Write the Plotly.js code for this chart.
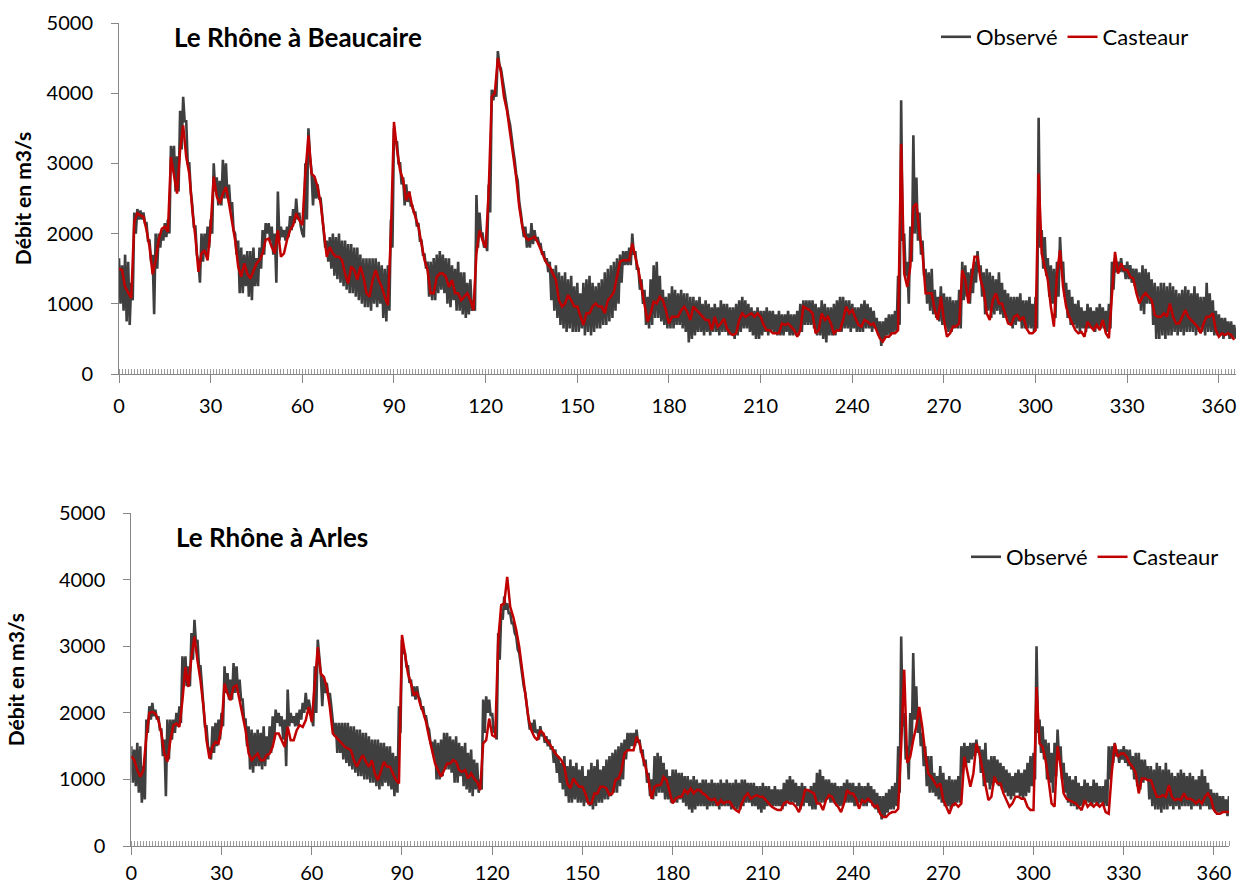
<!DOCTYPE html>
<html>
<head>
<meta charset="utf-8">
<script src="https://cdn.plot.ly/plotly-3.0.1.min.js"></script>
<style>html,body{margin:0;padding:0;background:#fff;}#chart{width:1239px;height:886px;}</style>
</head>
<body>
<div id="chart"></div>
<script>
// ---- Data, one value per day 0..365 ----
var seriesNames = ["Observé", "Casteaur"];
var stationTitles = ["Le Rhône à Beaucaire", "Le Rhône à Arles"];
var xTickVals = [0, 30, 60, 90, 120, 150, 180, 210, 240, 270, 300, 330, 360];
var yTickVals = [0, 1000, 2000, 3000, 4000, 5000];

// Beaucaire - Casteaur (model)
var castBeaucaire = [
1500,1480,1240,1150,1080,2170,2290,2260,2240,2050,
1810,1420,1620,1910,2070,2100,2025,3090,2855,2570,
3190,3540,3090,2855,2330,1955,1456,1717,1765,1620,
2100,2810,2525,2430,2570,2665,2430,2145,1910,1530,
1385,1575,1430,1360,1480,1575,1620,1717,1910,1930,
1810,1717,2050,1670,1717,1910,2050,2120,2290,2190,
2120,2855,3400,2855,2810,2665,2430,2000,1670,1810,
1717,1670,1670,1620,1430,1290,1530,1480,1340,1530,
1385,1150,1100,1340,1480,1340,1240,1100,980,2000,
3590,3190,2900,2760,2475,2595,2380,2240,2100,1860,
1620,1480,1150,1150,1385,1430,1430,1385,1240,1340,
1150,1150,1050,1100,1150,1050,910,1720,2050,1900,
1800,2600,3950,4000,4500,4300,3950,3750,3450,3150,
2800,2380,2100,1955,1910,1930,1955,1880,1765,1670,
1575,1530,1430,1340,1050,960,1005,1125,1050,960,
960,815,700,865,865,960,1005,960,960,865,
1050,1100,1170,1385,1600,1620,1620,1620,1860,1670,
1480,1240,960,745,865,1030,1005,1100,1050,910,
720,815,815,815,910,960,885,770,960,910,
865,815,770,770,625,815,675,720,790,650,
580,555,580,770,865,815,840,865,815,865,
815,700,625,625,580,580,580,720,700,720,
675,625,530,625,960,935,910,865,580,625,
865,770,815,720,580,625,625,770,960,865,
910,800,700,675,770,745,700,720,625,510,
460,530,530,580,580,625,3280,1430,1240,1530,
2380,2430,2000,1717,1150,1150,1150,910,770,1100,
770,530,580,675,675,720,1480,1340,1005,1340,
1670,1670,1340,1195,865,770,1050,1150,1005,1005,
865,720,700,815,840,770,815,650,580,580,
625,2855,1717,1530,1340,960,675,1430,1765,1240,
960,815,720,625,580,600,530,745,675,625,
700,625,770,580,510,1195,1740,1430,1575,1480,
1480,1385,1360,1150,1005,1100,1150,1100,1050,840,
815,815,865,815,1005,815,720,720,815,910,
815,770,720,675,580,720,815,815,865,625,
530,580,555,580,555,485];

// Beaucaire - observed, daily upper and lower edge of the tidal band
var obsHighBeaucaire = [
1650,1550,1700,1600,1300,2300,2350,2330,2300,2150,
1900,1700,2000,2000,2050,2150,2200,3250,3250,3100,
3750,3950,3600,3000,2400,2100,1600,2000,2000,2100,
2200,3000,2800,2750,3050,3000,2700,2450,2000,1900,
1800,1700,1750,1750,1800,1650,1800,2050,2150,2150,
2100,2000,2600,2100,2050,2100,2250,2350,2500,2300,
2000,3000,3500,2900,2800,2700,2500,2000,1900,1950,
2000,1950,2000,1900,1900,1850,1850,1800,1800,1700,
1650,1650,1650,1650,1650,1600,1550,1500,1550,2200,
3500,3300,3000,2800,2700,2600,2400,2300,2150,1900,
1700,1600,1600,1650,1700,1750,1700,1650,1650,1550,
1500,1600,1450,1450,1300,1350,1050,2550,2300,2000,
1900,2700,4050,4050,4600,4350,4050,3800,3550,3200,
2850,2450,2150,2100,2000,2150,2050,1950,1850,1750,
1650,1600,1500,1550,1450,1400,1450,1350,1400,1250,
1300,1150,1300,1350,1400,1300,1250,1300,1350,1450,
1500,1550,1600,1650,1700,1750,1750,1800,2000,1750,
1500,1350,1200,1100,1350,1550,1600,1400,1200,1100,
1150,1250,1200,1150,1200,1150,1150,1100,1100,1050,
1100,1000,1050,1000,950,1000,950,1050,1000,1000,
950,950,1000,1050,1100,1050,1000,950,900,950,
900,900,950,900,900,850,900,850,850,900,
850,850,900,1000,1050,1050,1050,1050,1000,950,
1050,1000,950,950,1000,1050,1100,1100,1050,1050,
1000,950,950,1000,1050,1000,950,900,800,750,
750,800,850,850,900,1400,3900,2000,1600,2100,
3400,2800,2300,1900,1500,1450,1500,1200,1100,1250,
1150,1100,1100,1050,1050,1200,1600,1550,1450,1500,
1600,1750,1550,1450,1500,1450,1400,1350,1450,1300,
1200,1150,1100,1100,1100,1150,1050,1050,1100,1000,
1100,3650,2050,1950,1650,1550,1500,1600,1950,1600,
1300,1200,1100,1000,1050,950,900,1000,950,900,
950,1000,950,900,1000,1600,1650,1600,1650,1550,
1600,1550,1500,1500,1450,1550,1500,1450,1350,1300,
1250,1300,1300,1250,1300,1250,1200,1150,1200,1250,
1200,1150,1250,1150,1100,1100,1300,1150,1050,900,
850,800,800,750,750,700];

var obsLowBeaucaire = [
1000,900,750,700,1050,2000,2200,2200,2150,1900,
1600,850,1500,1800,1900,1950,2000,2900,2600,2600,
3200,3600,3000,2600,2100,1700,1300,1600,1700,1800,
2000,2600,2400,2400,2500,2500,2350,2050,1700,1150,
1150,1250,1100,1050,1250,1250,1500,1700,2000,1900,
1700,1300,1900,1950,1900,1950,2050,2150,2200,2100,
1950,2200,3100,2400,2500,2500,2300,1800,1600,1500,
1400,1350,1300,1250,1200,1150,1150,1100,1050,1000,
950,950,900,1000,950,1000,800,750,900,1800,
3300,3000,2700,2400,2450,2400,2300,2100,1900,1700,
1500,1100,1050,1050,1150,1200,1150,1000,950,1050,
900,900,850,800,850,900,900,1800,2000,1800,
1750,2300,3900,3950,4400,4200,3900,3650,3350,3050,
2750,2300,1950,1800,1800,1850,1900,1850,1700,1600,
1450,1050,900,800,700,650,600,650,600,600,
600,650,550,600,550,600,650,650,700,700,
750,800,900,1000,1300,1550,1550,1550,1700,1500,
1200,1000,700,650,700,800,800,750,700,650,
650,650,700,700,650,600,450,500,550,600,
600,550,600,550,600,600,550,600,600,550,
550,500,550,600,650,650,600,550,500,500,
550,600,550,600,600,550,550,550,600,550,
550,550,550,600,700,700,700,650,550,550,
500,450,550,550,550,600,600,650,650,600,
650,600,600,600,650,650,600,650,550,400,
500,550,550,600,600,700,1900,1400,1000,1600,
2000,1900,1700,1400,1000,900,850,800,750,700,
650,600,600,650,650,650,1050,1100,1000,1150,
1300,1450,1100,850,900,800,850,900,850,800,
800,700,650,700,750,650,650,650,650,600,
650,1800,1500,1400,1100,1000,800,1100,1500,1100,
800,700,700,650,600,650,600,650,650,600,
650,650,650,600,650,1200,1450,1450,1450,1350,
1350,1300,1250,1100,900,850,1000,1000,700,500,
500,550,500,550,550,600,550,600,550,600,
600,600,550,600,600,550,600,600,550,550,
550,500,550,500,500,500];

// Arles - Casteaur (model)
var castArles = [
1350,1290,1140,1040,1140,1640,2000,2015,1990,1890,
1690,1390,1265,1590,1815,1840,1790,2190,2690,2390,
2840,3145,2790,2490,2090,1590,1315,1490,1565,1540,
1790,2440,2290,2190,2390,2415,2190,1940,1740,1390,
1290,1340,1390,1290,1290,1365,1390,1490,1690,1690,
1590,1490,1790,1590,1590,1740,1815,1790,1890,2090,
1865,2440,2990,2590,2540,2390,2090,1690,1640,1590,
1540,1490,1465,1440,1290,1190,1290,1365,1265,1190,
1290,1090,990,1140,1265,1190,1190,1090,990,940,
3170,2890,2590,2440,2265,2315,2140,2015,1865,1640,
1440,1240,1140,1040,1140,1240,1240,1290,1265,1140,
1115,1140,1015,1090,1015,965,840,1540,1590,1915,
1665,1640,3090,3620,3645,4045,3595,3445,3245,2990,
2640,2290,1940,1740,1640,1590,1740,1690,1590,1540,
1465,1390,1340,1290,1190,940,865,1015,940,890,
890,790,640,640,790,790,890,890,865,765,
790,990,1015,1140,1390,1440,1440,1440,1640,1540,
1340,1190,990,710,890,915,915,1040,990,790,
640,710,740,740,840,790,865,790,840,840,
790,765,710,690,710,610,690,640,665,665,
590,540,510,640,740,790,710,740,765,740,
740,690,640,590,560,540,540,640,665,640,
640,590,510,640,840,840,815,790,640,640,
540,690,765,740,640,590,510,640,840,790,
790,710,560,690,660,710,665,590,610,485,
435,435,485,510,510,560,1500,2650,1250,1340,
1590,1790,2090,1790,1390,1090,1040,965,890,940,
690,590,485,610,640,590,640,1340,1090,890,
1090,1540,1390,1140,890,690,740,1040,940,940,
790,690,590,640,740,740,710,710,590,540,
540,2390,1540,1490,1290,990,640,590,1500,1190,
790,710,690,665,640,590,540,690,590,640,
590,640,590,640,510,485,1090,1540,1340,1390,
1390,1340,1240,1190,1090,790,1015,1015,990,990,
865,740,740,765,740,915,740,690,710,690,
790,710,710,690,640,690,640,740,790,710,
540,485,485,510,510,510];

// Arles - observed, daily upper and lower edge of the tidal band
var obsHighArles = [
1500,1450,1550,1500,1200,1900,2100,2150,2050,1950,
1750,1600,1900,1900,1900,2000,2100,2850,2850,2700,
3200,3400,3100,2700,2200,1800,1450,1800,1850,1900,
2000,2700,2600,2500,2750,2700,2500,2200,1900,1800,
1750,1700,1750,1700,1800,1650,1800,1950,2050,2000,
1950,1900,2350,2000,1950,2000,2050,2150,2300,2200,
1900,2700,3100,2600,2550,2450,2300,1850,1850,1850,
1850,1850,1850,1800,1800,1750,1750,1700,1700,1650,
1600,1600,1600,1550,1550,1500,1500,1400,1350,2100,
3100,2900,2700,2500,2400,2400,2200,2100,1950,1750,
1550,1600,1550,1600,1700,1700,1650,1600,1650,1550,
1500,1550,1400,1450,1300,1250,1000,2200,2250,2200,
2000,1800,3200,3500,3750,3650,3500,3350,3150,2900,
2600,2300,1950,1850,1900,1750,1800,1700,1650,1600,
1500,1450,1350,1250,1350,1200,1300,1200,1250,1150,
1200,1050,1150,1250,1200,1300,1150,1200,1300,1350,
1400,1450,1500,1550,1600,1700,1700,1700,1750,1600,
1450,1300,1100,1000,1350,1400,1350,1250,1150,1050,
1150,1150,1100,1100,1050,1050,1000,1050,1000,950,
1000,1000,950,1000,950,950,1000,950,1000,950,
950,1000,950,1000,1000,950,950,950,900,900,
950,900,900,850,900,850,850,950,1000,1050,
1000,950,900,950,900,850,900,950,1100,1150,
1050,1000,1000,950,950,900,900,950,1000,950,
950,900,950,900,900,950,900,850,800,750,
750,800,850,900,950,1500,3150,2000,1500,2000,
2900,2400,2000,1700,1500,1350,1350,1100,1050,1200,
1100,1000,1050,1000,1000,1050,1500,1550,1500,1550,
1550,1600,1500,1450,1550,1300,1350,1350,1300,1250,
1200,1150,1100,1050,1100,1150,1100,1150,1250,1350,
1400,3000,1900,1800,1600,1550,1400,1550,1750,1500,
1250,1100,1050,1000,1050,950,900,1000,950,900,
1000,950,900,900,1000,1500,1500,1550,1450,1450,
1500,1450,1450,1350,1400,1400,1300,1300,1200,1200,
1150,1250,1200,1150,1250,1150,1100,1050,1100,1150,
1100,1050,1100,1050,1000,1050,1150,1050,950,850,
800,800,750,750,700,750];

var obsLowArles = [
950,900,800,650,700,1700,1900,1950,1900,1750,
1350,750,1300,1600,1700,1800,1850,2400,2400,2400,
2800,3050,2700,2400,1800,1500,1300,1400,1500,1600,
1800,2300,2200,2200,2300,2300,2200,1900,1500,1150,
1100,1200,1200,1150,1200,1300,1400,1600,1850,1800,
1600,1200,1800,1850,1800,1800,1900,2000,2050,2050,
1800,2000,2800,2100,2300,2250,2100,1650,1400,1400,
1300,1250,1200,1150,1100,1050,1050,1000,1000,950,
950,900,850,900,950,900,850,750,800,1700,
2900,2700,2450,2250,2200,2250,2050,1950,1800,1550,
1350,1000,1000,1050,1150,1150,1100,950,950,1050,
900,850,800,750,850,800,850,1700,2000,1950,
1700,1600,2800,3400,3550,3500,3350,3200,2950,2700,
2400,2100,1750,1700,1700,1600,1650,1550,1500,1450,
1250,1100,950,850,750,650,650,700,650,650,
600,650,600,550,600,650,650,700,700,750,
800,800,900,1000,1300,1450,1500,1500,1550,1400,
1200,950,750,700,750,800,800,700,700,650,
650,650,700,650,600,550,500,550,600,600,
600,550,600,600,600,550,600,600,600,550,
550,550,550,600,650,650,600,600,550,500,
550,600,600,600,600,600,550,600,650,650,
650,600,550,600,650,600,550,550,650,650,
650,700,650,650,600,600,600,650,650,650,
600,600,650,600,600,650,600,550,500,400,
450,500,550,550,600,800,1800,1300,1000,1500,
1900,1700,1500,1200,900,800,800,750,700,650,
600,600,550,600,650,650,1100,1200,1250,1300,
1350,1400,1100,900,950,850,900,950,900,850,
800,750,700,750,800,750,700,750,800,900,
1000,1700,1400,1300,1000,950,800,1050,1300,1000,
800,650,600,600,550,600,600,650,650,600,
650,600,650,600,600,1000,1250,1350,1250,1300,
1250,1200,1150,1000,900,850,950,1000,700,600,
550,550,500,550,550,600,550,600,550,600,
600,600,550,600,600,550,600,600,550,550,
500,500,500,500,450,500];

// ---- checks ----
[["castBeaucaire",castBeaucaire],["obsHighBeaucaire",obsHighBeaucaire],["obsLowBeaucaire",obsLowBeaucaire],
 ["castArles",castArles],["obsHighArles",obsHighArles],["obsLowArles",obsLowArles]].forEach(function(p){
  if (p[1].length !== 366) throw new Error(p[0] + " has " + p[1].length + " values");
});

// daily index for the model series
function dayIndex(arr){ return arr.map(function(_, i){ return i; }); }
// observed band: each day's upper value, then its lower value half a day later
function bandTrace(hi, lo){
  var x = [], y = [];
  for (var i = 0; i < hi.length; i++){ x.push(i, i + 0.5); y.push(hi[i], lo[i]); }
  return {x: x, y: y};
}

var FONT = "Lato, 'Open Sans', 'DejaVu Sans', sans-serif";
var GREY = "#3f3f3f", RED = "#C00000", AXIS = "#868686";

var bB = bandTrace(obsHighBeaucaire, obsLowBeaucaire);
var bA = bandTrace(obsHighArles, obsLowArles);

var traces = [
  {x: bB.x, y: bB.y, type: "scatter", mode: "lines", name: seriesNames[0], xaxis: "x", yaxis: "y",
   line: {color: GREY, width: 2.6}, legend: "legend", hoverinfo: "skip"},
  {x: dayIndex(castBeaucaire), y: castBeaucaire, type: "scatter", mode: "lines", name: seriesNames[1], xaxis: "x", yaxis: "y",
   line: {color: RED, width: 2.5}, legend: "legend"},
  {x: bA.x, y: bA.y, type: "scatter", mode: "lines", name: seriesNames[0], xaxis: "x2", yaxis: "y2",
   line: {color: GREY, width: 2.6}, legend: "legend2", hoverinfo: "skip"},
  {x: dayIndex(castArles), y: castArles, type: "scatter", mode: "lines", name: seriesNames[1], xaxis: "x2", yaxis: "y2",
   line: {color: RED, width: 2.5}, legend: "legend2"}
];

function xAxis(domain, range, anchor, standoff){
  return {domain: domain, range: range, anchor: anchor, tickmode: "array", tickvals: xTickVals,
    ticks: "outside", ticklen: 8, tickwidth: 1, tickcolor: AXIS,
    showline: true, linecolor: AXIS, linewidth: 1, showgrid: false, zeroline: false,
    tickfont: {family: FONT, size: 20, color: "#000"}, ticklabelstandoff: standoff,
    minor: {tick0: 0, dtick: 1, ticks: "inside", ticklen: 5, tickwidth: 1, tickcolor: "#9a9a9a", showgrid: false}};
}
function yAxis(domain, anchor, standoff){
  return {domain: domain, range: [0, 5000], anchor: anchor, tickmode: "array", tickvals: yTickVals,
    ticks: "outside", ticklen: 7, tickwidth: 1, tickcolor: AXIS,
    showline: true, linecolor: AXIS, linewidth: 1, showgrid: false, zeroline: false,
    tickfont: {family: FONT, size: 20, color: "#000"}, ticklabelstandoff: 14,
    title: {text: "Débit en m3/s", font: {family: FONT, size: 21, color: "#000", weight: "bold"}, standoff: standoff}};
}

var layout = {
  width: 1239, height: 886,
  margin: {l: 0, r: 0, t: 0, b: 0},
  paper_bgcolor: "#fff", plot_bgcolor: "#fff",
  font: {family: FONT, color: "#000"},
  showlegend: true,
  xaxis: xAxis([119/1239, 1236/1239], [0, 365.6], "y", 6),
  yaxis: yAxis([1 - 374/886, 1 - 23/886], "x", 9),
  xaxis2: xAxis([131.3/1239, 1229/1239], [0, 365], "y2", 1),
  yaxis2: yAxis([1 - 846/886, 1 - 513.3/886], "x2", 28),
  legend: {orientation: "h", x: 1194/1239, xanchor: "right", y: 1 - 37/886, yanchor: "middle",
    bgcolor: "rgba(0,0,0,0)", font: {family: FONT, size: 22, color: "#000"}, itemwidth: 30, itemgap: 12},
  legend2: {orientation: "h", x: 1224/1239, xanchor: "right", y: 1 - 557/886, yanchor: "middle",
    bgcolor: "rgba(0,0,0,0)", font: {family: FONT, size: 22, color: "#000"}, itemwidth: 30, itemgap: 12},
  annotations: [
    {text: stationTitles[0], xref: "paper", yref: "paper", x: 172/1239, y: 1 - 37/886, xanchor: "left", yanchor: "middle",
     showarrow: false, font: {family: FONT, size: 26, color: "#000", weight: "bold"}},
    {text: stationTitles[1], xref: "paper", yref: "paper", x: 174/1239, y: 1 - 537/886, xanchor: "left", yanchor: "middle",
     showarrow: false, font: {family: FONT, size: 26, color: "#000", weight: "bold"}}
  ]
};

Plotly.newPlot("chart", traces, layout, {displayModeBar: false, staticPlot: true});
</script>
</body>
</html>
